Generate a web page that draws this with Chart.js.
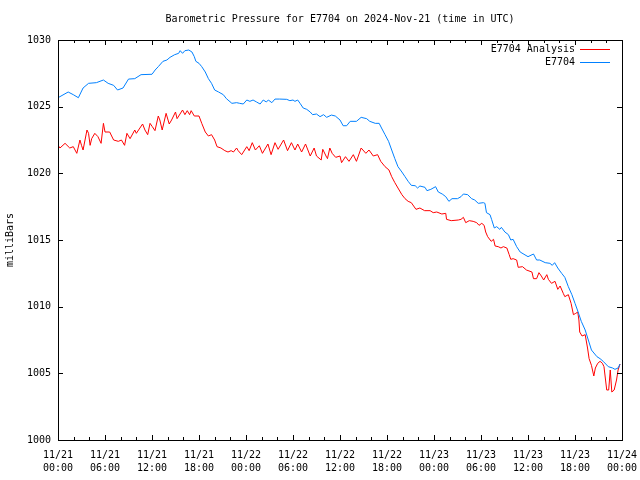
<!DOCTYPE html>
<html>
<head>
<meta charset="utf-8">
<title>Barometric Pressure E7704</title>
<script src="https://cdn.jsdelivr.net/npm/chart.js@4.4.1/dist/chart.umd.min.js"></script>
<style>
  body { margin: 0; background: #fff; }
  #wrap { width: 640px; height: 480px; }
</style>
</head>
<body>
<div id="wrap"><canvas id="pressure-chart" width="640" height="480"></canvas></div>
<script>
// hours since 2024-11-21 00:00 UTC
var analysisHours = [0,0.25,0.9,1.5,1.95,2.4,2.8,3.0,3.2,3.7,3.9,4.1,4.3,4.7,5.1,5.5,5.8,6.0,6.6,7.1,7.7,8.1,8.5,8.8,9.2,9.8,10.0,10.8,11.1,11.45,11.75,12.04,12.38,12.8,13.0,13.3,13.8,14.2,14.5,15.0,15.2,15.9,16.2,16.5,16.8,17.0,17.4,18.0,18.35,18.8,19.2,19.6,20.0,20.3,20.8,21.3,21.7,22.1,22.4,22.8,23.0,23.45,24.1,24.4,24.8,25.2,25.7,26.1,26.8,27.2,27.7,28.1,28.8,29.3,29.8,30.25,30.6,31.1,31.6,32.2,32.7,33.0,33.6,33.8,34.3,34.4,34.7,35.0,35.45,36.0,36.2,36.7,37.15,37.7,38.1,38.7,39.3,39.7,40.25,40.8,41.2,41.75,42.25,42.6,43.0,43.4,43.9,44.3,44.7,45.1,45.7,46.2,46.8,47.5,47.9,48.35,49.0,49.5,49.6,50.2,51.1,51.45,51.75,52.05,52.5,53.0,53.45,53.75,54.1,54.4,54.6,54.85,55.3,55.6,55.8,56.2,56.55,56.85,57.3,57.6,57.8,58.1,58.55,58.75,59.3,59.8,60.5,60.7,61.1,61.4,61.7,62.0,62.4,62.6,63.0,63.45,63.8,64.1,64.5,64.7,65.15,65.5,65.8,66.1,66.35,66.5,66.6,66.9,67.3,67.6,67.8,68.1,68.4,68.6,68.9,69.2,69.5,69.7,70.05,70.3,70.5,70.7,71.0,71.3,71.5,71.75];
var analysisValues = [1022.1,1021.9,1022.25,1021.9,1022.0,1021.5,1022.5,1022.1,1021.75,1023.25,1023.0,1022.1,1022.6,1023.0,1022.75,1022.25,1023.75,1023.1,1023.1,1022.5,1022.4,1022.5,1022.1,1023.0,1022.6,1023.25,1023.0,1023.7,1023.25,1022.9,1023.75,1023.5,1023.2,1024.3,1024.0,1023.25,1024.5,1023.7,1024.0,1024.6,1024.1,1024.75,1024.4,1024.7,1024.4,1024.7,1024.3,1024.3,1023.75,1023.1,1022.8,1022.9,1022.5,1022.0,1021.9,1021.7,1021.6,1021.7,1021.6,1021.9,1021.7,1021.4,1022.0,1021.7,1022.3,1021.75,1022.07,1021.5,1022.2,1021.4,1022.3,1021.8,1022.5,1021.7,1022.3,1021.75,1022.2,1021.6,1022.2,1021.3,1021.9,1021.3,1021.0,1021.8,1021.2,1021.1,1021.9,1021.5,1021.2,1021.3,1020.8,1021.25,1020.9,1021.4,1020.9,1021.9,1021.5,1021.75,1021.3,1021.4,1020.9,1020.5,1020.25,1019.75,1019.3,1018.9,1018.4,1018.1,1017.9,1017.8,1017.3,1017.4,1017.2,1017.2,1017.05,1017.1,1016.95,1017.0,1016.55,1016.45,1016.5,1016.55,1016.7,1016.3,1016.45,1016.4,1016.3,1016.1,1016.25,1016.1,1015.6,1015.25,1014.9,1015.05,1014.55,1014.5,1014.4,1014.5,1014.4,1013.9,1013.55,1013.6,1013.5,1012.95,1013.0,1012.75,1012.6,1012.1,1012.1,1012.55,1012.3,1012.0,1012.4,1012.05,1011.75,1011.9,1011.3,1011.55,1011.0,1010.75,1010.9,1010.25,1009.4,1009.5,1009.6,1009.0,1008.1,1007.8,1007.9,1006.9,1006.1,1005.6,1004.8,1005.4,1005.75,1005.9,1005.75,1005.5,1003.75,1003.75,1005.25,1003.6,1003.75,1004.5,1005.25,1005.7];

var stationHours = [0,1.3,1.95,2.6,3.2,3.9,4.9,5.8,6.4,7.1,7.6,8.3,9.0,9.8,10.6,12.0,12.4,12.8,13.4,13.9,14.3,14.9,15.4,15.6,15.9,16.2,16.7,17.1,17.4,17.6,18.0,18.35,18.8,19.2,19.6,20.0,20.5,21.1,21.5,22.2,22.8,23.2,23.65,24.1,24.5,24.9,25.35,25.8,26.2,26.6,26.85,27.3,27.7,28.3,29.2,29.6,30.0,30.25,30.6,30.9,31.3,31.75,32.2,32.5,33.0,33.45,33.9,34.3,34.9,35.4,36.0,36.4,36.85,37.3,38.1,38.7,39.4,39.8,40.5,41.0,41.3,41.75,42.2,42.6,43.0,43.4,43.9,44.3,44.7,45.1,45.6,45.9,46.2,46.85,47.1,47.6,48.2,48.55,49.05,49.5,49.9,50.3,51.0,51.45,51.75,52.3,52.8,53.2,53.65,54.3,54.5,54.7,55.15,55.35,55.7,56.0,56.4,56.6,57.05,57.5,57.8,58.1,58.55,59.0,60.0,60.7,61.1,61.5,62.2,62.8,63.1,63.4,63.8,64.3,64.7,65.15,65.6,66.0,66.4,66.8,67.3,67.7,68.1,68.8,69.2,69.6,70.25,70.8,71.1,71.5,71.75];
var stationValues = [1025.67,1026.1,1025.9,1025.67,1026.4,1026.75,1026.8,1027.0,1026.75,1026.6,1026.25,1026.4,1027.07,1027.1,1027.4,1027.43,1027.75,1028.0,1028.4,1028.5,1028.7,1028.9,1029.0,1029.2,1029.0,1029.2,1029.25,1029.1,1028.75,1028.4,1028.25,1028.0,1027.6,1027.1,1026.75,1026.25,1026.1,1025.9,1025.6,1025.25,1025.3,1025.25,1025.2,1025.5,1025.4,1025.5,1025.35,1025.2,1025.5,1025.35,1025.5,1025.3,1025.57,1025.57,1025.55,1025.45,1025.5,1025.4,1025.5,1025.25,1024.9,1024.8,1024.6,1024.4,1024.45,1024.25,1024.4,1024.2,1024.37,1024.3,1024.0,1023.57,1023.57,1023.9,1023.9,1024.2,1024.1,1023.9,1023.75,1023.75,1023.4,1022.9,1022.4,1021.75,1021.1,1020.5,1020.1,1019.75,1019.4,1019.1,1019.07,1018.9,1019.05,1018.95,1018.7,1018.8,1019.0,1018.6,1018.45,1018.25,1017.9,1018.1,1018.1,1018.25,1018.45,1018.4,1018.1,1018.0,1017.75,1017.8,1017.75,1017.05,1016.9,1016.55,1015.9,1016.0,1015.8,1015.95,1015.6,1015.4,1015.0,1015.05,1014.5,1014.1,1013.75,1013.95,1013.5,1013.5,1013.3,1013.25,1013.1,1013.3,1012.9,1012.5,1012.2,1011.5,1010.9,1010.25,1009.6,1008.9,1008.25,1007.5,1006.75,1006.25,1006.1,1005.9,1005.5,1005.4,1005.3,1005.4,1005.7];

var seriesNames = ["E7704 Analysis", "E7704"];
var seriesColors = ["#ff0000", "#0080ff"];
var dayLabels = ["11/21","11/21","11/21","11/21","11/22","11/22","11/22","11/22","11/23","11/23","11/23","11/23","11/24"];
var timeLabels = ["00:00","06:00","12:00","18:00","00:00","06:00","12:00","18:00","00:00","06:00","12:00","18:00","00:00"];

var FAMILY = '"DejaVu Sans Mono", "Liberation Mono", monospace';
var FONT = '10px ' + FAMILY;

function toPoints(hours, values){
  var pts = [];
  for (var i = 0; i < hours.length; i++) {
    pts.push({x: hours[i], y: values[i]});
  }
  return pts;
}

// gnuplot style frame, inward ticks, title, legend
var gnuplotDecor = {
  id: 'gnuplotDecor',
  afterDraw: function(chart){
    var ctx = chart.ctx;
    var a = chart.chartArea;
    var xs = chart.scales.x, ys = chart.scales.y;
    ctx.save();
    ctx.strokeStyle = '#000';
    ctx.lineWidth = 1;
    ctx.strokeRect(a.left + 0.5, a.top + 0.5, a.right - a.left, a.bottom - a.top);

    ctx.beginPath();
    for (var h = 0; h <= 72; h += 2) {
      var px = Math.round(xs.getPixelForValue(h)) + 0.5;
      var len = (h % 6 === 0) ? 5 : 3;
      ctx.moveTo(px, a.bottom); ctx.lineTo(px, a.bottom - len);
      ctx.moveTo(px, a.top); ctx.lineTo(px, a.top + len);
    }
    for (var v = 1000; v <= 1030; v += 5) {
      var py = Math.round(ys.getPixelForValue(v)) + 0.5;
      ctx.moveTo(a.left, py); ctx.lineTo(a.left + 5, py);
      ctx.moveTo(a.right, py); ctx.lineTo(a.right - 5, py);
    }
    ctx.stroke();

    ctx.fillStyle = '#000';
    ctx.font = FONT;
    ctx.textBaseline = 'middle';
    ctx.textAlign = 'center';
    ctx.fillText('Barometric Pressure for E7704 on 2024-Nov-21 (time in UTC)', (a.left + a.right) / 2, 19);

    // legend
    ctx.textAlign = 'right';
    for (var i = 0; i < seriesNames.length; i++) {
      var ly = 49 + i * 13;
      ctx.fillText(seriesNames[i], 575, ly);
      ctx.beginPath();
      ctx.strokeStyle = seriesColors[i];
      ctx.moveTo(580, ly + 0.5); ctx.lineTo(610, ly + 0.5);
      ctx.stroke();
    }

    // y axis label
    ctx.translate(10, (a.top + a.bottom) / 2);
    ctx.rotate(-Math.PI / 2);
    ctx.textAlign = 'center';
    ctx.fillText('milliBars', 0, 0);
    ctx.restore();
  }
};

function renderPressureChart(){
  var ctx = document.getElementById("pressure-chart");
  new Chart(ctx, {
    type: 'line',
    data: {
      datasets: [{
        label: seriesNames[0],
        data: toPoints(analysisHours, analysisValues),
        borderColor: seriesColors[0],
        borderWidth: 1,
        pointRadius: 0,
        order: 1
      }, {
        label: seriesNames[1],
        data: toPoints(stationHours, stationValues),
        borderColor: seriesColors[1],
        borderWidth: 1,
        pointRadius: 0,
        order: 0
      }]
    },
    options: {
      responsive: false,
      animation: false,
      devicePixelRatio: 1,
      layout: { padding: { top: 40, right: 18, bottom: 0, left: 0 } },
      plugins: { legend: { display: false }, title: { display: false }, tooltip: { enabled: false } },
      scales: {
        x: {
          type: 'linear',
          min: 0, max: 72,
          grid: { display: false },
          border: { display: false },
          afterFit: function(s){ s.height = 40; s.paddingLeft = 0; s.paddingRight = 0; },
          afterBuildTicks: function(s){
            s.ticks = [];
            for (var h = 0; h <= 72; h += 6) s.ticks.push({value: h});
          },
          ticks: {
            autoSkip: false,
            maxRotation: 0,
            padding: 1,
            color: '#000',
            font: { family: FAMILY, size: 10, lineHeight: 1.3 },
            callback: function(v){ var i = Math.round(v / 6); return [dayLabels[i], timeLabels[i]]; }
          }
        },
        y: {
          min: 1000, max: 1030,
          grid: { display: false, tickLength: 0 },
          border: { display: false },
          afterFit: function(s){ s.width = 58; s.paddingTop = 0; s.paddingBottom = 0; },
          ticks: {
            stepSize: 5,
            padding: 7,
            color: '#000',
            font: { family: FAMILY, size: 10 },
            callback: function(v){ return String(v); }
          }
        }
      }
    },
    plugins: [gnuplotDecor]
  });
}

renderPressureChart();
</script>
</body>
</html>
